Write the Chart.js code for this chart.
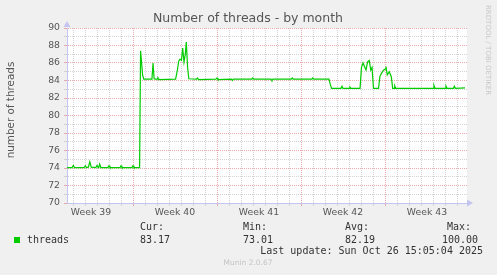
<!DOCTYPE html>
<html>
<head>
<meta charset="utf-8">
<script src="https://cdn.jsdelivr.net/npm/chart.js@4.4.1/dist/chart.umd.min.js"></script>
<style>
  html, body { margin: 0; padding: 0; background: #f0f0f0; }
</style>
</head>
<body>
<canvas id="grafico" width="497" height="275"></canvas>
<script>
// Data (days relative to Monday of week 40)
const weekLabels = ['Week 39', 'Week 40', 'Week 41', 'Week 42', 'Week 43'];
const weekStarts = [-7, 0, 7, 14, 21];
const yTicks = [70, 72, 74, 76, 78, 80, 82, 84, 86, 88, 90];

const days = [
  -5.5, -5.08, -4.97, -4.88, -4.08, -3.97, -3.88, -3.72, -3.6, -3.48,
  -3.1, -3.0, -2.9, -2.85, -2.78, -2.68, -2.08, -2.0, -1.92, -1.08,
  -1.0, -0.92, -0.08, 0.0, 0.08, 0.55, 0.63, 0.72, 0.8, 0.9,
  1.5, 1.58, 1.67, 1.76, 1.85, 2.0, 2.08, 2.17, 3.55, 3.7,
  3.81, 3.92, 4.04, 4.14, 4.25, 4.36, 4.44, 4.55, 4.65, 5.3,
  5.38, 5.46, 6.9, 7.0, 7.08, 8.2, 8.28, 8.36, 9.9, 9.98,
  10.06, 11.5, 11.58, 11.66, 13.2, 13.28, 13.36, 14.9, 14.98, 15.06,
  16.33, 16.45, 16.55, 17.33, 17.42, 17.5, 18.0, 18.08, 18.17, 18.92,
  19.04, 19.17, 19.29, 19.42, 19.54, 19.69, 19.81, 19.92, 20.04, 20.46,
  20.58, 20.72, 20.86, 21.0, 21.08, 21.19, 21.36, 21.53, 21.64, 21.75,
  21.81, 21.9, 25.0, 25.08, 25.17, 26.0, 26.08, 26.17, 26.7, 26.78,
  26.87, 27.67
];
const threads = [
  74.05, 74.05, 74.3, 74.05, 74.05, 74.25, 74.05, 74.1, 74.7, 74.1,
  74.05, 74.3, 74.05, 74.1, 74.45, 74.05, 74.05, 74.25, 74.05, 74.05,
  74.25, 74.05, 74.05, 74.25, 74.05, 74.05, 87.4, 86.0, 84.6, 84.15,
  84.15, 84.2, 86.0, 84.2, 84.15, 84.15, 84.3, 84.1, 84.15, 85.2,
  86.2, 86.45, 86.3, 87.7, 86.1, 87.0, 88.4, 85.5, 84.2, 84.15,
  84.28, 84.1, 84.15, 84.28, 84.1, 84.15, 84.0, 84.15, 84.15, 84.28,
  84.15, 84.15, 84.0, 84.15, 84.15, 84.28, 84.15, 84.15, 84.28, 84.15,
  84.15, 83.5, 83.1, 83.1, 83.35, 83.1, 83.1, 83.25, 83.1, 83.1,
  85.5, 86.0, 85.6, 85.2, 86.1, 86.3, 85.2, 85.5, 83.1, 83.1,
  84.5, 84.85, 85.15, 85.3, 85.6, 84.65, 85.0, 84.4, 83.1, 83.1,
  83.4, 83.1, 83.1, 83.45, 83.1, 83.1, 83.35, 83.1, 83.1, 83.35,
  83.1, 83.15
];

const legendStats = [['Cur:', '83.17'], ['Min:', '73.01'], ['Avg:', '82.19'], ['Max:', '100.00']];

const colorLinea = '#00cc00';
const colorEje = '#c4c4f0';
const gridMenor = 'rgba(205,205,205,0.85)';
const gridMayor = 'rgba(228,150,150,0.8)';

// day ticks for the grid + week mid points for the labels
const xTicks = [];
for (let d = -5; d <= 27; d++) xTicks.push(d);
weekStarts.forEach(w => xTicks.push(w + 3.5));
xTicks.sort((a, b) => a - b);

const textos = {
  id: 'textos',
  beforeDraw(chart) {
    const { ctx, chartArea: a } = chart;
    ctx.save();
    ctx.fillStyle = '#f0f0f0';
    ctx.fillRect(0, 0, chart.width, chart.height);
    ctx.fillStyle = '#ffffff';
    ctx.fillRect(a.left, a.top, a.right - a.left, a.bottom - a.top);
    ctx.restore();
  },
  afterDraw(chart) {
    const { ctx, chartArea: a } = chart;
    ctx.save();

    // arrows at the end of the axes
    ctx.fillStyle = colorEje;
    ctx.beginPath();
    ctx.moveTo(a.left - 3.5, a.top - 1);
    ctx.lineTo(a.left + 3.5, a.top - 1);
    ctx.lineTo(a.left, a.top - 7);
    ctx.fill();
    ctx.beginPath();
    ctx.moveTo(a.right, a.bottom - 3.5);
    ctx.lineTo(a.right, a.bottom + 3.5);
    ctx.lineTo(a.right + 6, a.bottom);
    ctx.fill();

    ctx.textBaseline = 'middle';
    ctx.fillStyle = '#555';
    ctx.textAlign = 'center';
    ctx.font = '12.5px "DejaVu Sans"';
    ctx.fillText('Number of threads - by month', 248, 19);

    ctx.save();
    ctx.translate(11, 110);
    ctx.rotate(-Math.PI / 2);
    ctx.font = '10.4px "DejaVu Sans"';
    ctx.fillText('number of threads', 0, 0);
    ctx.restore();

    ctx.save();
    ctx.translate(488, 5);
    ctx.rotate(Math.PI / 2);
    ctx.textAlign = 'left';
    ctx.fillStyle = '#c8c8c8';
    ctx.font = '7px "DejaVu Sans"';
    ctx.fillText('RRDTOOL / TOBI OETIKER', 0, 0);
    ctx.restore();

    // legend
    ctx.fillStyle = colorLinea;
    ctx.fillRect(14, 237, 6, 6);
    ctx.fillStyle = '#333';
    ctx.textAlign = 'left';
    ctx.font = '10px "DejaVu Sans Mono"';
    ctx.fillText('threads', 27, 240);
    const xs = [[140, 140], [243, 243], [345, 345], [447, 442]];
    legendStats.forEach((s, i) => {
      ctx.fillText(s[0], xs[i][0], 227.5);
      ctx.fillText(s[1], xs[i][1], 240);
    });
    ctx.textAlign = 'right';
    ctx.fillText('Last update: Sun Oct 26 15:05:04 2025', 483, 251.7);

    ctx.textAlign = 'center';
    ctx.fillStyle = '#c4c4c4';
    ctx.font = '7.5px "DejaVu Sans"';
    ctx.fillText('Munin 2.0.67', 248, 263.5);
    ctx.restore();
  }
};

new Chart(document.getElementById('grafico'), {
  type: 'line',
  data: {
    datasets: [{
      data: days.map((d, i) => ({ x: d, y: threads[i] })),
      borderColor: colorLinea,
      borderWidth: 1.2,
      pointRadius: 0,
      tension: 0,
      fill: false
    }]
  },
  options: {
    responsive: false,
    animation: false,
    devicePixelRatio: 1,
    events: [],
    layout: { padding: { left: 0, top: 28, right: 30, bottom: 0 } },
    plugins: { legend: { display: false }, title: { display: false }, tooltip: { enabled: false } },
    scales: {
      x: {
        type: 'linear',
        min: -5.5,
        max: 27.8333,
        afterFit: s => { s.height = 72; },
        afterBuildTicks: s => { s.ticks = xTicks.map(v => ({ value: v })); },
        border: { display: true, color: colorEje, width: 1, dash: [1, 1] },
        grid: {
          color: c => (c.tick.value % 1 !== 0 ? 'rgba(0,0,0,0)' : (c.tick.value % 7 === 0 ? gridMayor : gridMenor)),
          tickLength: 3,
          lineWidth: 1
        },
        ticks: {
          autoSkip: false,
          maxRotation: 0,
          padding: 1,
          color: '#555',
          font: { family: 'DejaVu Sans', size: 9.3 },
          callback: v => {
            const i = weekStarts.indexOf(v - 3.5);
            return i >= 0 ? weekLabels[i] : '';
          }
        }
      },
      y: {
        min: 70,
        max: 90,
        afterFit: s => { s.width = 67; },
        border: { display: true, color: colorEje, width: 1, dash: [1, 1] },
        grid: {
          color: c => (yTicks.includes(c.tick.value) ? gridMayor : gridMenor),
          tickLength: 3,
          lineWidth: 1
        },
        ticks: {
          stepSize: 1,
          autoSkip: false,
          padding: 4,
          color: '#555',
          font: { family: 'DejaVu Sans', size: 9.3 },
          callback: v => (yTicks.includes(v) ? v : '')
        }
      }
    }
  },
  plugins: [textos]
});
</script>
</body>
</html>
